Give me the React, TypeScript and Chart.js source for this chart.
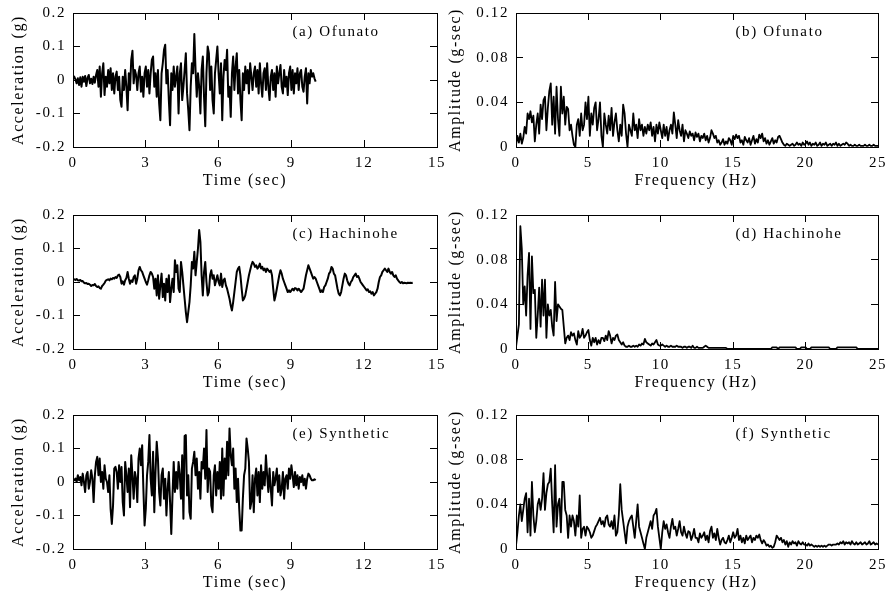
import React, { useEffect, useRef } from 'react';
import { Chart, registerables } from 'chart.js';

Chart.register(...registerables);

// ---------------- data ----------------
const TIME_STEP_OFUNATO = 0.05;
const OFUNATO_ACC = [
  0.005, 0.01, 0.002, -0.01, 0.005, -0.015, 0.008, -0.02, 0.01, -0.005, 0.012, -0.018, 0.006, 0.015, -0.01, 0.004, -0.012, 0.01, -0.008, 0.015,
  0.03, -0.02, 0.04, -0.05, 0.02, 0.05, -0.045, 0.01, -0.02, 0.03, -0.01, 0.035, -0.03, 0.02, -0.04, 0.01, 0.025, -0.03, 0.01, -0.06,
  -0.08, 0.01, -0.03, 0.03, -0.02, -0.09, 0.02, -0.03, 0.06, 0.087, -0.01, 0.03, 0.015, -0.03, 0.02, 0.04, -0.035, 0.01, -0.05, 0.02,
  0.04, -0.02, 0.03, -0.04, 0.02, 0.06, 0.07, -0.02, 0.02, -0.05, 0.03, -0.07, -0.12, 0.02, 0.05, 0.09, 0.105, -0.01, 0.03, -0.06,
  -0.135, 0.02, -0.03, 0.04, -0.02, 0.01, 0.04, -0.1, 0.02, 0.05, -0.06, -0.02, 0.03, 0.08, -0.04, -0.09, -0.15, -0.02, 0.05, 0.02,
  0.137, 0.03, -0.05, 0.02, -0.02, -0.1, 0.03, 0.07, -0.05, -0.138, 0.02, 0.1, 0.08, -0.03, 0.04, -0.06, -0.1, 0.02, 0.06, 0.1,
  0.02, -0.04, 0.05, -0.12, 0.01, 0.06, 0.03, 0.09, -0.05, -0.02, -0.11, 0.02, 0.07, -0.03, 0.04, 0.08, -0.04, 0.03, -0.06, -0.12,
  0.02, -0.03, 0.04, -0.01, 0.03, -0.04, 0.05, 0.01, -0.03, 0.02, 0.04, -0.02, 0.03, -0.04, 0.05, -0.01, -0.05, 0.02, 0.035, -0.03,
  0.05, -0.02, -0.06, 0.01, 0.03, -0.03, 0.02, -0.05, 0.04, -0.01, 0.02, 0.045, -0.02, -0.04, 0.03, -0.02, 0.01, -0.045, 0.02, 0.04,
  -0.03, 0.03, -0.04, 0.02, -0.01, 0.035, -0.03, 0.02, 0.03, -0.02, -0.035, 0.01, 0.035, -0.07, 0.02, -0.01, 0.03, 0.01, 0.02, 0.005, -0.005,
];

const TIME_STEP_HACHINOHE = 0.05;
const HACHINOHE_ACC = [
  0.005, 0.008, 0.006, 0.009, 0.005, 0.004, 0.006, 0.002, 0.003, -0.002, -0.004, -0.003, -0.006, -0.005, -0.008, -0.012, -0.009, -0.01, -0.006, -0.012,
  -0.015, -0.013, -0.018, -0.02, -0.012, -0.008, -0.003, 0.004, 0.006, 0.008, 0.005, 0.01, 0.008, 0.012, 0.01, 0.015, 0.012, 0.02, 0.022, 0.015,
  -0.005, 0.002, -0.008, 0.005, 0.012, 0.03, 0.01, -0.005, 0.005, 0.0, 0.015, 0.02, -0.005, 0.01, 0.035, 0.045, 0.035, 0.03, 0.02, 0.01,
  0.0, -0.008, 0.005, 0.02, 0.03, 0.025, 0.015, -0.02, 0.01, -0.04, 0.02, -0.05, -0.01, 0.025, -0.045, -0.005, -0.055, 0.01, -0.03, 0.02,
  -0.06, -0.02, 0.01, -0.03, 0.065, 0.03, 0.05, -0.02, -0.03, 0.06, 0.03, -0.01, -0.05, -0.09, -0.12, -0.09, -0.06, -0.01, 0.06, 0.04,
  0.09, 0.02, 0.06, 0.1, 0.155, 0.12, 0.02, -0.04, 0.03, 0.06, 0.0, -0.04, -0.03, 0.02, 0.035, 0.01, 0.02, -0.01, 0.005, 0.02,
  0.0, -0.01, 0.025, -0.015, 0.005, 0.01, -0.01, -0.02, -0.035, -0.05, -0.07, -0.085, -0.06, -0.03, 0.0, 0.03, 0.04, 0.045, 0.02, -0.02,
  -0.055, -0.05, -0.04, -0.02, 0.0, 0.02, 0.035, 0.05, 0.06, 0.055, 0.045, 0.05, 0.04, 0.045, 0.055, 0.04, 0.045, 0.035, 0.04, 0.03,
  0.04, 0.035, 0.03, 0.035, 0.02, -0.02, -0.055, -0.04, -0.02, 0.0, 0.02, 0.035, 0.025, 0.01, 0.0, -0.01, -0.02, -0.03, -0.025, -0.03,
  -0.025, -0.02, -0.025, -0.018, -0.02, -0.025, -0.02, -0.025, -0.03, -0.025, -0.02, 0.0, 0.02, 0.035, 0.05, 0.04, 0.03, 0.02, 0.01, 0.015,
  0.01, 0.0, -0.01, -0.02, -0.03, -0.025, -0.03, -0.015, -0.01, 0.0, 0.01, 0.025, 0.03, 0.045, 0.04, 0.025, 0.02, 0.0, -0.02, -0.035,
  -0.04, -0.03, -0.01, 0.01, 0.025, 0.02, 0.005, -0.005, -0.01, 0.0, 0.005, 0.015, 0.02, 0.025, 0.015, 0.018, 0.01, 0.0, -0.005, -0.01,
  -0.015, -0.02, -0.025, -0.022, -0.03, -0.028, -0.035, -0.03, -0.04, -0.035, -0.03, -0.02, 0.0, 0.015, 0.02, 0.03, 0.035, 0.04, 0.035, 0.03,
  0.04, 0.03, 0.025, 0.03, 0.02, 0.015, 0.02, 0.01, 0.005, 0.0, -0.003, 0.0, -0.004, -0.002, -0.003, -0.004, -0.002, -0.003, -0.002, -0.003, -0.002,
];

const TIME_STEP_SYNTHETIC = 0.05;
const SYNTHETIC_ACC = [
  0.005, 0.005, 0.01, 0.0, 0.02, 0.005, 0.015, -0.01, 0.025, 0.0, -0.03, 0.02, 0.03, -0.02, 0.0, 0.035, 0.01, -0.06, 0.02, 0.06,
  0.075, 0.02, 0.07, 0.0, 0.03, -0.02, 0.05, 0.01, 0.0, -0.03, 0.02, -0.08, -0.125, -0.07, 0.04, 0.045, 0.03, -0.02, 0.05, 0.0,
  0.045, -0.06, -0.1, 0.06, 0.02, -0.03, 0.04, -0.075, 0.08, 0.02, -0.05, 0.03, 0.01, -0.06, 0.07, 0.1, 0.05, 0.11, -0.02, -0.13,
  -0.08, 0.02, 0.06, 0.14, 0.01, -0.04, 0.09, -0.09, 0.03, 0.12, 0.07, -0.03, -0.07, 0.02, 0.04, -0.05, 0.01, -0.1, -0.02, 0.03,
  -0.06, -0.155, -0.04, 0.06, -0.03, 0.03, -0.02, 0.06, 0.02, -0.05, 0.08, -0.11, 0.137, 0.14, -0.04, 0.02, -0.09, -0.11, 0.04, 0.06,
  0.09, 0.02, 0.07, -0.02, 0.03, -0.05, 0.06, 0.04, 0.1, 0.01, 0.155, -0.03, 0.04, 0.03, -0.07, -0.09, 0.02, 0.05, -0.04, 0.03,
  -0.02, 0.06, -0.05, 0.1, -0.04, 0.07, 0.01, 0.12, 0.02, 0.16, 0.08, 0.05, 0.1, -0.02, 0.04, -0.06, 0.01, -0.08, -0.145, -0.145,
  -0.05, 0.02, 0.04, 0.13, 0.1, 0.06, -0.08, -0.06, 0.02, -0.09, 0.01, 0.04, -0.04, 0.03, -0.06, 0.05, -0.02, 0.03, -0.01, 0.08,
  0.02, -0.03, 0.04, -0.02, -0.07, 0.03, -0.01, 0.01, 0.04, -0.03, 0.02, -0.04, -0.02, 0.03, -0.05, 0.01, 0.02, -0.02, 0.04, 0.01,
  0.05, 0.02, -0.015, 0.03, -0.01, 0.02, -0.02, 0.015, 0.0, 0.02, -0.01, 0.01, -0.02, 0.01, 0.025, 0.02, 0.01, 0.005, 0.005, 0.008, 0.005,
];

const FREQ_STEP = 0.1;
const OFUNATO_AMP = [
  0.002, 0.01, 0.004, 0.012, 0.003, 0.008, 0.018, 0.012, 0.03, 0.025,
  0.032, 0.022, 0.028, 0.005, 0.02, 0.03, 0.012, 0.038, 0.025, 0.042,
  0.045, 0.015, 0.035, 0.05, 0.057, 0.02, 0.045, 0.012, 0.054, 0.025,
  0.01, 0.054, 0.03, 0.045, 0.02, 0.036, 0.034, 0.015, 0.02, 0.01,
  0.002, 0.0, 0.02, 0.025, 0.01, 0.03, 0.015, 0.02, 0.04, 0.025,
  0.045, 0.01, 0.03, 0.02, 0.035, 0.04, 0.015, 0.025, 0.04, 0.01,
  0.0, 0.03, 0.02, 0.012, 0.028, 0.015, 0.035, 0.01, 0.022, 0.03,
  0.015, 0.005, 0.02, 0.01, 0.038, 0.03, 0.012, 0.0, 0.02, 0.015,
  0.01, 0.03, 0.015, 0.02, 0.008, 0.025, 0.015, 0.02, 0.01, 0.018,
  0.012, 0.02, 0.015, 0.022, 0.01, 0.018, 0.005, 0.02, 0.012, 0.022,
  0.015, 0.008, 0.02, 0.01, 0.018, 0.006, 0.015, 0.02, 0.012, 0.031,
  0.02, 0.008, 0.024, 0.015, 0.01, 0.02, 0.005, 0.015, 0.012, 0.008,
  0.014, 0.01, 0.012, 0.006, 0.013, 0.009, 0.012, 0.005, 0.01, 0.008,
  0.012, 0.006, 0.01, 0.004, 0.008, 0.015, 0.012, 0.008, 0.01, 0.004,
  0.006, 0.002, 0.004, 0.007, 0.002, 0.005, 0.003, 0.008, 0.006, 0.002,
  0.01, 0.007, 0.011, 0.008, 0.01, 0.004, 0.006, 0.002, 0.009, 0.006,
  0.004, 0.008, 0.002, 0.006, 0.01, 0.003, 0.007, 0.004, 0.011, 0.008,
  0.012, 0.005, 0.008, 0.003, 0.006, 0.002, 0.005, 0.008, 0.003, 0.006,
  0.004, 0.009, 0.01, 0.007, 0.004, 0.002, 0.001, 0.003, 0.002, 0.001,
  0.002, 0.003, 0.001, 0.002, 0.004, 0.002, 0.003, 0.001, 0.004, 0.002,
  0.003, 0.005, 0.002, 0.004, 0.001, 0.003, 0.002, 0.004, 0.001, 0.002,
  0.004, 0.001, 0.003, 0.002, 0.004, 0.001, 0.002, 0.003, 0.001, 0.003,
  0.002, 0.004, 0.001, 0.003, 0.001, 0.002, 0.003, 0.002, 0.004, 0.003,
  0.001, 0.002, 0.001, 0.001, 0.002, 0.001, 0.001, 0.002, 0.001, 0.001,
  0.001, 0.002, 0.001, 0.001, 0.002, 0.001, 0.001, 0.002, 0.001, 0.001, 0.001,
];

const HACHINOHE_AMP = [
  0.002, 0.012, 0.022, 0.11, 0.09, 0.04, 0.056, 0.03, 0.066, 0.086,
  0.018, 0.083, 0.05, 0.053, 0.01, 0.03, 0.055, 0.02, 0.062, 0.03,
  0.062, 0.01, 0.04, 0.03, 0.035, 0.02, 0.012, 0.06, 0.025, 0.04,
  0.038, 0.036, 0.035, 0.02, 0.005, 0.01, 0.012, 0.008, 0.015, 0.012,
  0.014, 0.008, 0.004, 0.016, 0.01, 0.012, 0.018, 0.01, 0.012, 0.015,
  0.017, 0.008, 0.003, 0.01, 0.006, 0.01, 0.004, 0.008, 0.005, 0.01,
  0.01, 0.007, 0.012, 0.008, 0.016, 0.012, 0.005, 0.01, 0.008, 0.012,
  0.013, 0.008, 0.006, 0.004, 0.006, 0.003, 0.002, 0.002, 0.003, 0.002,
  0.002, 0.003, 0.002, 0.003, 0.002, 0.004, 0.003, 0.005, 0.004, 0.009,
  0.006, 0.005, 0.004, 0.003, 0.005, 0.004, 0.006, 0.008, 0.004, 0.003,
  0.003, 0.004, 0.003, 0.002, 0.003, 0.002, 0.002, 0.003, 0.002, 0.002,
  0.002, 0.003, 0.002, 0.002, 0.002, 0.001, 0.002, 0.002, 0.001, 0.002,
  0.002, 0.001, 0.003, 0.001, 0.001, 0.002, 0.001, 0.001, 0.001, 0.001,
  0.002, 0.003, 0.002, 0.001, 0.001, 0.001, 0.001, 0.001, 0.001, 0.001,
  0.001, 0.001, 0.001, 0.001, 0.001, 0.001, 0, 0, 0, 0,
  0, 0, 0, 0, 0, 0, 0, 0, 0, 0,
  0, 0, 0, 0, 0, 0, 0, 0, 0, 0,
  0, 0, 0, 0, 0, 0, 0, 0.0015, 0.0015, 0.0015,
  0.0015, 0, 0.0015, 0.0015, 0.0015, 0.0015, 0.0015, 0.0015, 0.0015, 0.0015,
  0.0015, 0.0015, 0.0015, 0.0015, 0, 0, 0, 0.0015, 0.0015, 0.0015,
  0.0015, 0, 0, 0, 0.0015, 0.0015, 0.0015, 0.0015, 0.0015, 0.0015,
  0.0015, 0.0015, 0.0015, 0.0015, 0.0015, 0.0015, 0.0015, 0, 0, 0,
  0, 0, 0.0015, 0.0015, 0.0015, 0.0015, 0.0015, 0.0015, 0.0015, 0.0015,
  0.0015, 0.0015, 0.0015, 0.0015, 0.0015, 0.0015, 0, 0, 0, 0,
  0, 0, 0, 0, 0, 0, 0, 0, 0, 0, 0,
];

const SYNTHETIC_AMP = [
  0.003, 0.015, 0.03, 0.04, 0.025, 0.035, 0.045, 0.05, 0.015, 0.045,
  0.012, 0.06, 0.03, 0.015, 0.025, 0.04, 0.045, 0.035, 0.045, 0.068,
  0.035, 0.05, 0.058, 0.06, 0.072, 0.04, 0.015, 0.075, 0.02, 0.04,
  0.045, 0.015, 0.06, 0.06, 0.035, 0.03, 0.01, 0.03, 0.02, 0.03,
  0.025, 0.012, 0.03, 0.02, 0.048, 0.01, 0.018, 0.02, 0.012, 0.02,
  0.018, 0.015, 0.01, 0.012, 0.016, 0.02, 0.022, 0.025, 0.028, 0.022,
  0.025, 0.02, 0.028, 0.03, 0.022, 0.02, 0.025, 0.018, 0.03, 0.012,
  0.015, 0.03, 0.058, 0.035, 0.025, 0.015, 0.005, 0.02, 0.025, 0.028,
  0.03, 0.02, 0.01, 0.025, 0.04, 0.02, 0.015, 0.01, 0.005, 0.0,
  0.01, 0.015, 0.02, 0.025, 0.018, 0.03, 0.032, 0.036, 0.02, 0.01,
  0.0, 0.015, 0.025, 0.018, 0.022, 0.015, 0.01, 0.02, 0.027, 0.018,
  0.02, 0.012, 0.018, 0.025, 0.015, 0.012, 0.02, 0.014, 0.01, 0.016,
  0.015, 0.008, 0.012, 0.018, 0.01, 0.01, 0.006, 0.014, 0.01, 0.012,
  0.015, 0.008, 0.012, 0.006, 0.016, 0.02, 0.01, 0.014, 0.008, 0.018,
  0.01, 0.004, 0.008, 0.01, 0.006, 0.005, 0.008, 0.012, 0.006, 0.01,
  0.015, 0.01, 0.012, 0.018, 0.008, 0.012, 0.006, 0.01, 0.005, 0.012,
  0.008, 0.01, 0.012, 0.006, 0.01, 0.008, 0.012, 0.01, 0.013, 0.008,
  0.005, 0.008, 0.006, 0.003, 0.004, 0.002, 0.003, 0.001, 0.002, 0.006,
  0.012, 0.01, 0.008, 0.01, 0.006, 0.008, 0.004, 0.007, 0.002, 0.006,
  0.004, 0.007, 0.005, 0.006, 0.003, 0.007, 0.005, 0.004, 0.006, 0.004,
  0.004, 0.003, 0.005, 0.003, 0.004, 0.003, 0.002, 0.003, 0.002, 0.003,
  0.002, 0.003, 0.002, 0.003, 0.002, 0.003, 0.004, 0.004, 0.003, 0.004,
  0.004, 0.004, 0.005, 0.004, 0.006, 0.005, 0.007, 0.004, 0.006, 0.005,
  0.006, 0.004, 0.007, 0.005, 0.004, 0.006, 0.004, 0.005, 0.006, 0.004,
  0.005, 0.006, 0.004, 0.005, 0.007, 0.004, 0.005, 0.006, 0.004, 0.005, 0.004,
];

const TIME_TICKS = [0, 3, 6, 9, 12, 15];
const FREQ_TICKS = [0, 5, 10, 15, 20, 25];
const ACC_TICKS = [-0.2, -0.1, 0, 0.1, 0.2];
const AMP_TICKS = [0, 0.04, 0.08, 0.12];

const PANEL_LABELS = ['(a) Ofunato', '(b) Ofunato', '(c) Hachinohe', '(d) Hachinohe', '(e) Synthetic', '(f) Synthetic'];
const TIME_TITLE = 'Time (sec)';
const FREQ_TITLE = 'Frequency (Hz)';
const ACC_TITLE = 'Acceleration (g)';
const AMP_TITLE = 'Amplitude (g-sec)';

// ---------------- rendering ----------------
const FONT_FAMILY = '"Liberation Serif", "Times New Roman", serif';
const LETTER_SPACING = '1.6px';
const CANVAS_H = 200;

type PanelSpec = {
  label: string;
  values: number[];
  step: number;
  kind: 'acc' | 'amp';
  col: 0 | 1;
  row: 0 | 1 | 2;
};

const PANELS: PanelSpec[] = [
  { label: PANEL_LABELS[0], values: OFUNATO_ACC, step: TIME_STEP_OFUNATO, kind: 'acc', col: 0, row: 0 },
  { label: PANEL_LABELS[1], values: OFUNATO_AMP, step: FREQ_STEP, kind: 'amp', col: 1, row: 0 },
  { label: PANEL_LABELS[2], values: HACHINOHE_ACC, step: TIME_STEP_HACHINOHE, kind: 'acc', col: 0, row: 1 },
  { label: PANEL_LABELS[3], values: HACHINOHE_AMP, step: FREQ_STEP, kind: 'amp', col: 1, row: 1 },
  { label: PANEL_LABELS[4], values: SYNTHETIC_ACC, step: TIME_STEP_SYNTHETIC, kind: 'acc', col: 0, row: 2 },
  { label: PANEL_LABELS[5], values: SYNTHETIC_AMP, step: FREQ_STEP, kind: 'amp', col: 1, row: 2 },
];

const ROW_TOPS = [0, 202, 402];
const COL_LEFT = [0, 445];
const COL_WIDTH = [460, 444];

function setSpacing(chart: any) {
  try {
    (chart.ctx as any).letterSpacing = LETTER_SPACING;
  } catch (e) {
    /* ignore */
  }
}

function noPadding(s: any) {
  s.paddingTop = 0;
  s.paddingBottom = 0;
  s.paddingLeft = 0;
  s.paddingRight = 0;
}

function Panel({ spec }: { spec: PanelSpec }) {
  const ref = useRef<HTMLCanvasElement | null>(null);
  const width = COL_WIDTH[spec.col];

  useEffect(() => {
    if (!ref.current) return;
    const isAcc = spec.kind === 'acc';
    const xTicks = isAcc ? TIME_TICKS : FREQ_TICKS;
    const yTicks = isAcc ? ACC_TICKS : AMP_TICKS;
    const xMax = xTicks[xTicks.length - 1];
    const yMin = yTicks[0];
    const yMax = yTicks[yTicks.length - 1];
    const xTitle = isAcc ? TIME_TITLE : FREQ_TITLE;
    const yTitle = isAcc ? ACC_TITLE : AMP_TITLE;
    const xTitleOffset = isAcc ? 172 : 180;

    const points = spec.values.map((y, i) => ({ x: +(i * spec.step).toFixed(4), y }));

    const grid = {
      drawOnChartArea: false,
      drawTicks: true,
      tickLength: -7,
      tickColor: '#000',
      tickWidth: 1,
    };
    const border = { display: true, color: '#000', width: 1 };
    const tickFont = { family: FONT_FAMILY, size: 15 };

    const overlay = {
      id: 'panelOverlay',
      beforeUpdate: (chart: any) => setSpacing(chart),
      beforeDraw: (chart: any) => setSpacing(chart),
      afterDraw: (chart: any) => {
        const { ctx, chartArea } = chart;
        ctx.save();
        setSpacing(chart);
        ctx.fillStyle = '#000';
        ctx.textBaseline = 'middle';
        ctx.textAlign = 'left';
        ctx.font = `15px ${FONT_FAMILY}`;
        ctx.fillText(spec.label, chartArea.left + 219.5, chartArea.top + 19.5);
        ctx.textAlign = 'center';
        ctx.font = `16px ${FONT_FAMILY}`;
        ctx.fillText(xTitle, chartArea.left + xTitleOffset, chartArea.bottom + 34);
        ctx.restore();
      },
    };

    const chart = new Chart(ref.current, {
      type: 'line',
      data: {
        datasets: [
          {
            data: points,
            borderColor: '#000',
            borderWidth: isAcc ? 2 : 1.8,
            borderJoinStyle: 'round',
            pointRadius: 0,
            tension: 0,
            fill: false,
            clip: 0,
          } as any,
        ],
      },
      options: {
        animation: false,
        responsive: false,
        maintainAspectRatio: false,
        events: [],
        layout: { padding: { top: 13, right: spec.col === 0 ? 23 : 11, bottom: 0, left: 0 } },
        plugins: { legend: { display: false }, tooltip: { enabled: false } },
        scales: {
          x: {
            type: 'linear',
            position: 'bottom',
            min: 0,
            max: xMax,
            afterBuildTicks: (s: any) => {
              s.ticks = xTicks.map((v) => ({ value: v }));
            },
            afterFit: (s: any) => {
              s.height = 53;
              noPadding(s);
            },
            ticks: {
              color: '#000',
              font: tickFont,
              padding: 14,
              maxRotation: 0,
              autoSkip: false,
              callback: (v: any) => String(v),
            },
            grid,
            border,
          },
          x2: {
            type: 'linear',
            position: 'top',
            min: 0,
            max: xMax,
            afterBuildTicks: (s: any) => {
              s.ticks = xTicks.map((v) => ({ value: v }));
            },
            afterFit: (s: any) => {
              s.height = 0;
              noPadding(s);
            },
            ticks: { display: false },
            grid,
            border,
          },
          y: {
            type: 'linear',
            position: 'left',
            min: yMin,
            max: yMax,
            afterBuildTicks: (s: any) => {
              s.ticks = yTicks.map((v) => ({ value: v }));
            },
            afterFit: (s: any) => {
              s.width = spec.col === 0 ? 73 : 71;
              noPadding(s);
            },
            ticks: {
              color: '#000',
              font: tickFont,
              padding: 14,
              autoSkip: false,
              callback: (v: any) => String(v),
            },
            title: {
              display: true,
              text: yTitle,
              color: '#000',
              font: { family: FONT_FAMILY, size: 16 },
              padding: { top: spec.col === 0 ? 9 : 1, bottom: 0 },
            },
            grid,
            border,
          },
          y2: {
            type: 'linear',
            position: 'right',
            min: yMin,
            max: yMax,
            afterBuildTicks: (s: any) => {
              s.ticks = yTicks.map((v) => ({ value: v }));
            },
            afterFit: (s: any) => {
              s.width = 0;
              noPadding(s);
            },
            ticks: { display: false },
            grid,
            border,
          },
        },
      } as any,
      plugins: [overlay as any],
    });

    return () => {
      chart.destroy();
    };
  }, [spec]);

  return (
    <canvas
      ref={ref}
      width={width}
      height={CANVAS_H}
      style={{
        position: 'absolute',
        left: COL_LEFT[spec.col],
        top: ROW_TOPS[spec.row],
        width,
        height: CANVAS_H,
      }}
    />
  );
}

export default function App() {
  return (
    <div
      style={{
        position: 'absolute',
        left: 0,
        top: 0,
        width: 889,
        height: 605,
        background: '#fff',
        overflow: 'hidden',
      }}
    >
      {PANELS.map((p) => (
        <Panel key={p.label} spec={p} />
      ))}
    </div>
  );
}
